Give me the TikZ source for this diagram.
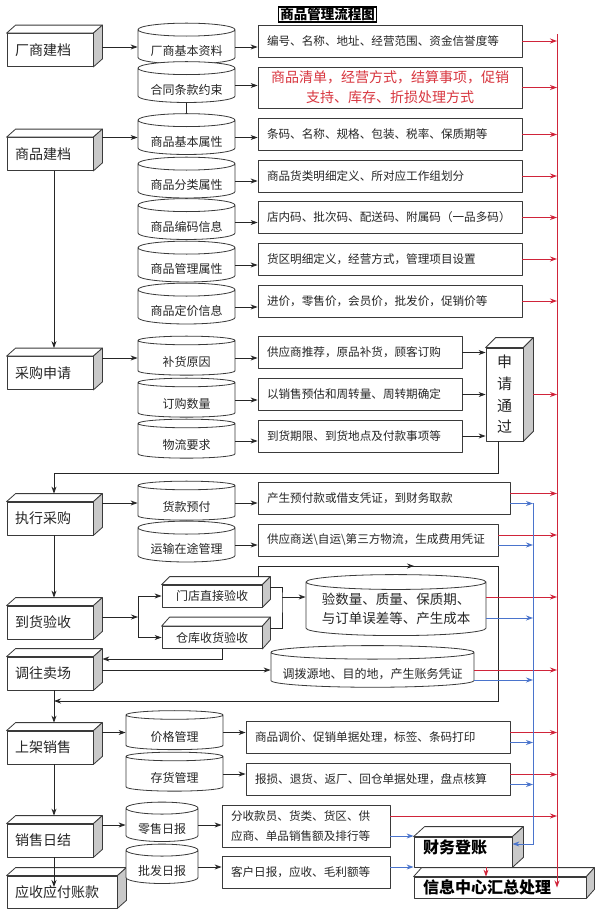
\documentclass[tikz,border=0pt]{standalone}
\usepackage{fontspec}
\setmainfont{Noto Sans CJK SC}
\usetikzlibrary{arrows.meta,calc,shapes.geometric}
\definecolor{FlowInk}{HTML}{262626}
\definecolor{BoxLine}{HTML}{3A3A3A}
\definecolor{SideGray}{HTML}{C9C9C9}
\definecolor{FlowRed}{HTML}{D0243A}
\definecolor{FlowBlue}{HTML}{4A74CC}
\definecolor{NoteRed}{HTML}{D8363F}

% top and side faces behind the front node #1, depth #2 right and #3 up
\newcommand\slab[3]{%
  \draw[face] (#1.north west) -- ++(#2,-#3) -- ($(#1.north east)+(#2,-#3)$)
    -- (#1.north east) -- cycle;
  \draw[face,fill=SideGray] (#1.north east) -- ++(#2,-#3)
    -- ($(#1.south east)+(#2,-#3)$) -- (#1.south east) -- cycle;}

\begin{document}
\begin{tikzpicture}[
  x=1pt,y=-1pt,>={Stealth[length=7pt,width=5pt]},
  every node/.style={text=FlowInk},
  face/.style={draw=BoxLine,fill=white,line width=.8pt,line join=round},
  stage/.style={face,minimum height=33,inner xsep=8,text width=#1,align=left,
    font=\fontsize{14}{16}\selectfont},
  stage/.default=70,
  tank/.style={cylinder,shape border rotate=90,face,inner sep=0pt,
    font=\fontsize{12}{14}\selectfont},
  store/.style={tank,aspect=.18,minimum width=97,minimum height=39,
    text height=19pt,text depth=2pt},
  note/.style={face,minimum height=32,inner xsep=9,text width=#1,align=left,
    font=\fontsize{11.6}{14}\selectfont},
  note/.default=246,
  check/.style={face,minimum width=100,minimum height=22,inner sep=0pt,
    font=\fontsize{12}{14}\selectfont},
  hub/.style={face,inner xsep=9,inner ysep=0pt,align=left,text=black,
    font=\bfseries\fontsize{16}{18}\selectfont},
  flow/.style={->,draw=FlowInk,line width=.8pt},
  link/.style={draw=FlowInk,line width=.8pt},
  redflow/.style={->,draw=FlowRed,line width=.9pt},
  blueflow/.style={->,draw=FlowBlue,line width=.9pt}
]
\path[use as bounding box,fill=white] (0,0) rectangle (615,918);
\node[draw=black,line width=1.4pt,inner xsep=1.5pt,inner ysep=1pt,text=black,
  font=\bfseries\fontsize{13.5}{15}\selectfont] (title) at (327.5,14.5) {商品管理流程图};
% stages down the left edge
\node[stage] (maker) at (50,50) {厂商建档};
\node[stage] (goods) at (50,154) {商品建档};
\node[stage] (apply) at (50,373) {采购申请};
\node[stage] (exec) at (50,518.5) {执行采购};
\node[stage] (arrive) at (50,622.5) {到货验收};
\node[stage] (move) at (50,673.5) {调往卖场};
\node[stage] (shelf) at (50,747.5) {上架销售};
\node[stage] (daily) at (50,840.5) {销售日结};
\node[stage=94,minimum height=32] (ledger) at (62,892) {应收应付账款};
\foreach \n in {maker,goods,apply,exec,arrive,move,shelf,daily,ledger}
  \slab{\n}{9}{8};
% data stores
\node[store] (firm) at (186.5,47) {厂商基本资料};
\node[store,minimum height=35] (contract) at (186.5,85.5) {合同条款约束};
\node[store,minimum height=35] (attr) at (186.5,137.5) {商品基本属性};
\node[store] (kind) at (186.5,181) {商品分类属性};
\node[store] (code) at (186.5,222.5) {商品编码信息};
\node[store] (mgmt) at (186.5,265) {商品管理属性};
\node[store] (price) at (186.5,307) {商品定价信息};
\node[store] (reason) at (186.5,358) {补货原因};
\node[store] (qty) at (186.5,400) {订购数量};
\node[store] (logi) at (186.5,441) {物流要求};
\node[store] (prepay) at (186.5,503) {货款预付};
\node[store] (transit) at (186.5,545) {运输在途管理};
\node[store] (pricing) at (174.5,732.5) {价格管理};
\node[store] (stock) at (174.5,774) {存货管理};
\node[store,minimum width=72,aspect=.25] (retail) at (162,825) {零售日报};
\node[store,minimum width=72,aspect=.25] (whole) at (162,867) {批发日报};
% detail notes
\node[note] (firmN) at (390,41) {编号、名称、地址、经营范围、资金信誉度等};
\node[note,minimum height=41,align=center,text=NoteRed,
  font=\fontsize{14}{20}\selectfont] (contractN) at (390,87.5)
  {商品清单，经营方式，结算事项，促销\\支持、库存、折损处理方式};
\node[note] (attrN) at (390,134.5) {条码、名称、规格、包装、税率、保质期等};
\node[note] (kindN) at (390,176) {商品货类明细定义、所对应工作组划分};
\node[note] (codeN) at (390,217.5) {店内码、批次码、配送码、附属码（一品多码）};
\node[note] (mgmtN) at (390,259) {货区明细定义，经营方式，管理项目设置};
\node[note] (priceN) at (390,301) {进价，零售价，会员价，批发价，促销价等};
\node[note=186] (reasonN) at (360,352.5) {供应商推荐，原品补货，顾客订购};
\node[note=186] (qtyN) at (360,394.5) {以销售预估和周转量、周转期确定};
\node[note=186] (logiN) at (360,436) {到货期限、到货地点及付款事项等};
\node[face,minimum width=37,minimum height=93,inner sep=0pt,align=center,
  font=\fontsize{15}{21.7}\selectfont] (ok) at (504.5,394.5) {申\\请\\通\\过};
\slab{ok}{10}{10};
\node[note=234] (prepayN) at (384,498.5) {产生预付款或借支凭证，到财务取款};
\node[note=222] (transitN) at (378,540)
  {供应商送\textbackslash 自运\textbackslash 第三方物流，生成费用凭证};
% arrival checks
\node[check] (chkA) at (212,596) {门店直接验收};
\node[check] (chkB) at (212,637.5) {仓库收货验收};
\slab{chkA}{8}{8};
\slab{chkB}{8}{9};
\node[tank,minimum width=180,minimum height=61,aspect=.1,align=center,
  font=\fontsize{13.5}{19}\selectfont] (verify) at (396,609)
  {验数量、质量、保质期、\\与订单误差等、产生成本};
\node[store,minimum width=203,minimum height=40,aspect=.075] (alloc) at (372.5,670)
  {调拨源地、目的地，产生账务凭证};
% sales
\node[note] (pricingN) at (378,737.5) {商品调价、促销单据处理，标签、条码打印};
\node[note] (stockN) at (378,779.5) {报损、退货、返厂、回仓单据处理，盘点核算};
\node[note=150,minimum height=42,font=\fontsize{11.6}{20}\selectfont]
  (retailN) at (306,826) {分收款员、货类、货区、供\\应商、单品销售额及排行等};
\node[note=150] (wholeN) at (306,872.5) {客户日报，应收、毛利额等};
\node[hub,minimum width=98,minimum height=30,text width=80,
  text height=13pt,text depth=11pt] (fin) at (463,852) {财务登账};
\node[hub,minimum width=172,minimum height=21,text width=154] (info) at (500,887.5)
  {信息中心汇总处理};
\slab{fin}{11}{10};
\slab{info}{8}{9};
% bus lines
\coordinate (redTop) at (557,34);
\coordinate (blueTop) at (533,503);
\coordinate (blueEnd) at (533,844);
% stage -> store, leaving from the side face
\foreach \s/\c in {maker/firm,goods/attr,apply/reason,exec/prepay,move/alloc,
    shelf/pricing,daily/retail}
  \draw[flow,shorten <=9pt] (\c.west -| \s.east) -- (\c.west);
\foreach \c in {firm,contract,attr,kind,code,mgmt,price,reason,qty,logi,
    prepay,transit,pricing,stock,retail,whole}
  \draw[flow] (\c.east) -- (\c.east -| \c N.west);
\draw[link] (contract.south) -- (attr.north);
\foreach \n in {firmN,contractN,attrN,kindN,codeN,mgmtN,priceN}
  \draw[redflow] (\n.east) -- (\n.east -| redTop);
\foreach \n in {reasonN,qtyN,logiN}
  \draw[flow] (\n.east) -- (\n.east -| ok.west);
\draw[redflow,shorten <=10pt] (ok.east) -- (ok.east -| redTop);
% approved requests come back round to the purchase
\coordinate (loopR) at (498,473);
\coordinate (loopL) at (54,473);
\draw[flow] (ok.south -| loopR) -- (loopR) -- (loopL)
  -- ([yshift=8pt]exec.north -| loopL);
\draw[flow] ([xshift=4pt]goods.south) -- ([xshift=4pt,yshift=8pt]apply.north);
\draw[flow] ([xshift=4pt]exec.south) -- ([xshift=4pt,yshift=8pt]arrive.north);
\draw[flow] ([xshift=4pt]move.south) -- ([xshift=4pt,yshift=8pt]shelf.north);
\draw[flow] ([xshift=4pt]shelf.south) -- ([xshift=4pt,yshift=8pt]daily.north);
\draw[flow] ([xshift=4pt]daily.south) -- ([xshift=-8pt,yshift=5pt]ledger.center);
\foreach \n in {prepayN,transitN,pricingN,stockN}{
  \draw[redflow] ([yshift=5pt]\n.east) -- ([yshift=5pt]\n.east -| redTop);
  \draw[blueflow] ([yshift=-5pt]\n.east) -- ([yshift=-5pt]\n.east -| blueTop);}
% arrival split and join
\coordinate (split) at (138,617);
\draw[flow,shorten <=9pt] (split -| arrive.east) -- (split);
\draw[link] (split |- chkA.west) -- (split |- chkB.west);
\draw[flow] (split |- chkA.west) -- (chkA.west);
\draw[flow] (split |- chkB.west) -- (chkB.west);
\coordinate (join) at (282,597);
\draw[link] ($(chkA.east)+(8,-9)$) -| (join) |- ($(chkB.east)+(8,-9.5)$);
\draw[flow] (join) -- (join -| verify.west);
\coordinate (frameNW) at (258,566);
\coordinate (frameNE) at (498,566);
\coordinate (frameSW) at (54,701);
\draw[flow] ([yshift=8pt]chkA.north -| frameNW) -- (frameNW)
  -- ($(frameNW)!.65!(frameNE)$);
\draw[flow] ($(frameNW)!.6!(frameNE)$) -- (frameNE) |- (frameSW);
\draw[flow] ([xshift=10pt]chkB.south) |- ([xshift=9pt,yshift=14.5pt]move.east);
\draw[redflow] ([yshift=12pt]verify.east) -- ([yshift=12pt]verify.east -| redTop);
\draw[blueflow] ([yshift=-9pt]verify.east) -- ([yshift=-9pt]verify.east -| blueTop);
\draw[redflow] (alloc.east) -- (alloc.east -| redTop);
\draw[blueflow] ([yshift=-10pt]alloc.east) -- ([yshift=-10pt]alloc.east -| blueTop);
% daily reports
\draw[redflow] ([yshift=10pt]retailN.east) -- ([yshift=10pt]retailN.east -| redTop);
\draw[blueflow] ([yshift=-10pt]retailN.east) -- ([yshift=-10pt]retailN.east -| fin.west);
\draw[blueflow] ([yshift=5.5pt]wholeN.east) -- ([yshift=5.5pt]wholeN.east -| fin.west);
\draw[redflow] (redTop) -- (redTop |- info.center);
\draw[blueflow] (blueTop) -- (blueEnd) -- (blueEnd -| fin.east);
\draw[redflow] ([xshift=23pt]fin.south) -- ([xshift=23pt]fin.south |- info.north);
\end{tikzpicture}
\end{document}
